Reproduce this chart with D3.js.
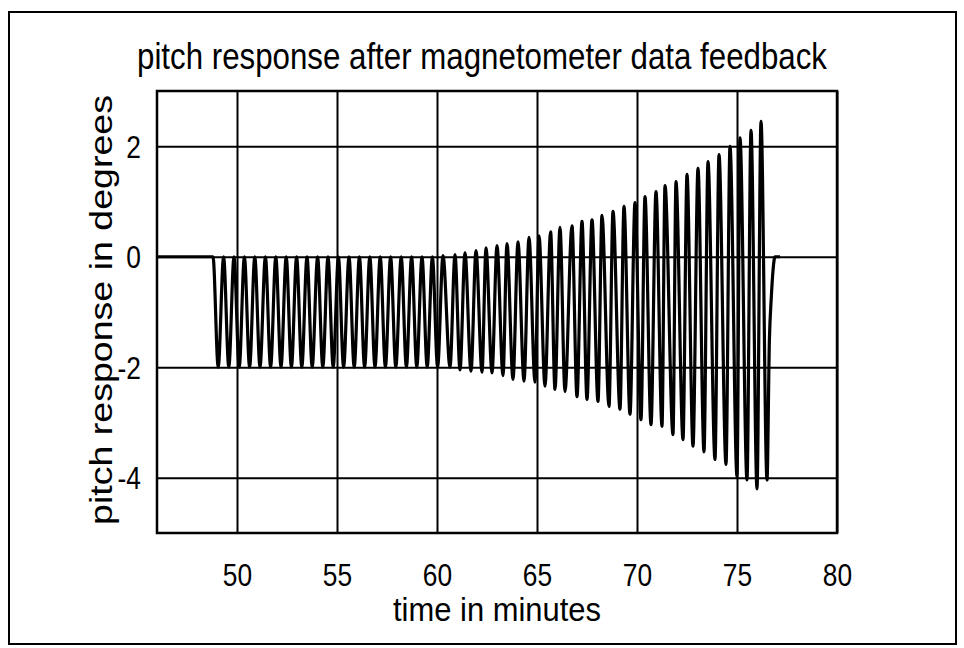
<!DOCTYPE html>
<html>
<head>
<meta charset="utf-8">
<script src="https://cdn.jsdelivr.net/npm/d3@7/dist/d3.min.js"></script>
<style>
  body { margin: 0; background: #fff; }
  svg text { font-family: "Liberation Sans", Arial, Helvetica, sans-serif; fill: #000; }
</style>
</head>
<body>
<div id="chart"></div>
<script>
// axis ticks
var xTicks = [50, 55, 60, 65, 70, 75, 80];
var yTicks = [-4, -2, 0, 2];

// flat lead-in before the oscillation starts
var leadTimes = [46.0, 48.70];
var leadVals = [0, 0];

// upper turning points (minutes, degrees)
var topTimes = [48.80, 49.33, 49.85, 50.37, 50.89, 51.42, 51.94, 52.46, 52.98, 53.50, 54.03,
  54.55, 55.07, 55.60, 56.12, 56.64, 57.16, 57.68, 58.21, 58.73, 59.25, 59.77,
  60.30, 60.90, 61.40, 61.95, 62.45, 63.00, 63.50, 64.05, 64.60, 65.10, 65.68,
  66.15, 66.75, 67.25, 67.75, 68.25, 68.80, 69.35, 69.90, 70.40, 70.95, 71.40,
  71.95, 72.50, 73.05, 73.55, 74.10, 74.65, 75.15, 75.70, 76.20];
var topVals = [0, 0, 0, 0, 0, 0, 0, 0, 0, 0, 0,
  0, 0, 0, 0, 0, 0, 0, 0, 0, 0, 0,
  0.02, 0.04, 0.07, 0.11, 0.16, 0.20, 0.24, 0.27, 0.35, 0.38, 0.45,
  0.53, 0.56, 0.64, 0.67, 0.75, 0.82, 0.91, 0.98, 1.09, 1.18, 1.29,
  1.36, 1.49, 1.60, 1.72, 1.85, 2.00, 2.15, 2.29, 2.45];

// lower turning points
var bottomTimes = [49.06, 49.59, 50.11, 50.63, 51.15, 51.68, 52.20, 52.72, 53.24, 53.76, 54.29,
  54.81, 55.33, 55.86, 56.38, 56.90, 57.42, 57.94, 58.47, 58.99, 59.51, 60.03,
  60.65, 61.15, 61.70, 62.25, 62.75, 63.30, 63.80, 64.35, 64.90, 65.40, 65.90,
  66.40, 67.00, 67.50, 68.05, 68.60, 69.15, 69.65, 70.20, 70.70, 71.25, 71.80,
  72.30, 72.80, 73.35, 73.90, 74.45, 75.00, 75.50, 76.00, 76.50];
var bottomVals = [-2, -2, -2, -2, -2, -2, -2, -2, -2, -2, -2,
  -2, -2, -2, -2, -2, -2, -2, -2, -2, -2, -2,
  -2.00, -2.05, -2.07, -2.09, -2.10, -2.15, -2.22, -2.25, -2.27, -2.34, -2.40,
  -2.44, -2.53, -2.58, -2.62, -2.71, -2.76, -2.85, -2.95, -3.04, -3.07, -3.22,
  -3.31, -3.43, -3.53, -3.67, -3.76, -3.98, -4.04, -4.20, -4.04];

// recovery back to zero at the end
var tailTimes = [76.62, 76.72, 76.80, 76.90, 77.15];
var tailVals = [-1.5, -0.7, -0.25, 0, 0];

var width = 964,
  height = 648,
  margin = { top: 91, right: 127, bottom: 115, left: 157 };

var drawWidth = width - margin.left - margin.right;
var drawHeight = height - margin.top - margin.bottom;

// the scanned figure is taller than wide, so text gets squeezed sideways
var squeeze = 0.85;

function condense(sel, factor) {
  sel.each(function() {
    var len = this.getComputedTextLength();
    d3.select(this)
      .attr('textLength', len * factor)
      .attr('lengthAdjust', 'spacingAndGlyphs');
  });
}

var svg = d3.select('#chart').append('svg')
  .attr('width', width)
  .attr('height', height);

// frame round the whole figure
svg.append('rect')
  .attr('x', 9).attr('y', 12)
  .attr('width', 947).attr('height', 632)
  .attr('fill', 'none')
  .attr('stroke', '#000')
  .attr('stroke-width', 2);

var xScale = d3.scaleLinear().domain([46, 80]).range([0, drawWidth]);
var yScale = d3.scaleLinear().domain([-5, 3]).range([drawHeight, 0]);

var g = svg.append('g')
  .attr('transform', 'translate(' + margin.left + ',' + margin.top + ')');

// grid
var xGrid = d3.axisBottom(xScale).tickValues(xTicks).tickSize(-drawHeight).tickFormat('');
var yGrid = d3.axisLeft(yScale).tickValues(yTicks).tickSize(-drawWidth).tickFormat('');

g.append('g')
  .attr('class', 'grid x')
  .attr('transform', 'translate(0,' + drawHeight + ')')
  .call(xGrid);
g.append('g')
  .attr('class', 'grid y')
  .call(yGrid);

g.selectAll('.grid .domain').remove();
g.selectAll('.grid line')
  .attr('stroke', '#000')
  .attr('stroke-width', 2);

// signal
var points = [];
leadTimes.forEach(function(t, i) { points.push([t, leadVals[i]]); });
topTimes.forEach(function(t, i) { points.push([t, topVals[i]]); });
bottomTimes.forEach(function(t, i) { points.push([t, bottomVals[i]]); });
tailTimes.forEach(function(t, i) { points.push([t, tailVals[i]]); });
points.sort(function(a, b) { return a[0] - b[0]; });

var line = d3.line()
  .x(function(d) { return xScale(d[0]); })
  .y(function(d) { return yScale(d[1]); })
  .curve(d3.curveMonotoneX);

g.append('path')
  .datum(points)
  .attr('fill', 'none')
  .attr('stroke', '#000')
  .attr('stroke-width', 3.2)
  .attr('stroke-linejoin', 'round')
  .attr('d', line);

// plot border
g.append('rect')
  .attr('width', drawWidth)
  .attr('height', drawHeight)
  .attr('fill', 'none')
  .attr('stroke', '#000')
  .attr('stroke-width', 2.5);

// tick labels
var xAxis = d3.axisBottom(xScale).tickValues(xTicks).tickSize(0);
var yAxis = d3.axisLeft(yScale).tickValues(yTicks).tickSize(0)
  .tickFormat(function(d) { return d < 0 ? '-' + Math.abs(d) : d; });

var xAxisG = g.append('g')
  .attr('transform', 'translate(0,' + drawHeight + ')')
  .call(xAxis);
var yAxisG = g.append('g').call(yAxis);

[xAxisG, yAxisG].forEach(function(a) {
  a.select('.domain').remove();
  a.attr('font-size', null).attr('font-family', null);
  a.selectAll('text')
    .attr('font-size', 31)
    .style('font-family', '"Liberation Sans", Arial, sans-serif');
});
xAxisG.selectAll('text').attr('y', 53).attr('dy', 0);
yAxisG.selectAll('text').attr('x', -16).attr('dy', '0.36em');
condense(xAxisG.selectAll('text'), squeeze);
condense(yAxisG.selectAll('text'), squeeze);

// titles
svg.append('text')
  .attr('x', margin.left + drawWidth / 2 - 15)
  .attr('y', 69)
  .attr('text-anchor', 'middle')
  .attr('font-size', 37)
  .attr('textLength', 690)
  .attr('lengthAdjust', 'spacingAndGlyphs')
  .text('pitch response after magnetometer data feedback');

svg.append('text')
  .attr('x', 497)
  .attr('y', 621)
  .attr('text-anchor', 'middle')
  .attr('font-size', 33)
  .attr('textLength', 208)
  .attr('lengthAdjust', 'spacingAndGlyphs')
  .text('time in minutes');

svg.append('text')
  .attr('transform', 'translate(112,' + 310 + ') rotate(-90)')
  .attr('text-anchor', 'middle')
  .attr('font-size', 31)
  .attr('textLength', 430)
  .attr('lengthAdjust', 'spacingAndGlyphs')
  .text('pitch response in degrees');
</script>
</body>
</html>
